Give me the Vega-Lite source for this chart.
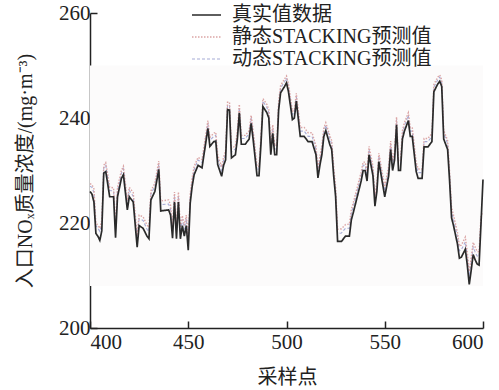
{
  "$schema": "https://vega.github.io/schema/vega-lite/v6.json",
  "width": 393,
  "height": 315,
  "autosize": "none",
  "padding": {"left": 90, "top": 13, "right": 16, "bottom": 62},
  "config": {
    "view": {"stroke": null},
    "font": "Liberation Serif, Noto Sans CJK SC",
    "axis": {
      "grid": false,
      "domainColor": "#222",
      "domainWidth": 1.5,
      "tickColor": "#222",
      "tickWidth": 1.5,
      "tickSize": -7,
      "labelFont": "Liberation Serif",
      "labelFontSize": 21,
      "labelColor": "#222",
      "titleFont": "Liberation Serif, Noto Sans CJK SC",
      "titleFontSize": 20,
      "titleFontWeight": "normal",
      "titleColor": "#222"
    }
  },
  "encoding": {
    "x": {
      "field": "x",
      "type": "quantitative",
      "scale": {"domain": [400, 600], "nice": false, "zero": false},
      "axis": {
        "title": "采样点",
        "values": [400, 450, 500, 550, 600],
        "labelPadding": 10,
        "titleX": 197,
        "titleY": 49,
        "titleAlign": "center",
        "titleBaseline": "middle",
        "titleAngle": 0
      }
    },
    "y": {
      "field": "value",
      "type": "quantitative",
      "scale": {"domain": [200, 260], "nice": false, "zero": false},
      "axis": {
        "title": "入口NOₓ质量浓度/(mg·m⁻³)",
        "values": [200, 220, 240, 260],
        "labelPadding": 7,
        "titleX": -65,
        "titleY": 157.5,
        "titleAngle": -90,
        "titleAlign": "center",
        "titleBaseline": "middle"
      }
    }
  },
  "layer": [
    {
      "data": {"values": [{"x": 400, "x2": 600, "value": 208, "value2": 250}]},
      "mark": {"type": "rect", "fill": "#fcfbfb", "stroke": null},
      "encoding": {
        "x2": {"field": "x2"},
        "y2": {"field": "value2"}
      }
    },
    {
      "data": {"values": [
        {"x":400,"r":226,"s":227.5,"d":227},
        {"x":401,"r":225.5,"s":227.3,"d":226.8},
        {"x":402,"r":224,"s":226.5,"d":225.8},
        {"x":403,"r":218,"s":220,"d":219.5},
        {"x":404,"r":217.5,"s":219.6,"d":219},
        {"x":405,"r":216.7,"s":219,"d":218.4},
        {"x":406,"r":218.5,"s":220.5,"d":219.8},
        {"x":407,"r":229.5,"s":231,"d":230.5},
        {"x":408,"r":229.8,"s":231.5,"d":231},
        {"x":409,"r":227.5,"s":229.3,"d":228.7},
        {"x":410,"r":225,"s":226.8,"d":226.2},
        {"x":412,"r":225,"s":226.7,"d":226.1},
        {"x":413,"r":217.2,"s":219.3,"d":218.6},
        {"x":414,"r":225,"s":226.8,"d":226.1},
        {"x":416,"r":228.5,"s":230,"d":229.5},
        {"x":417,"r":229.2,"s":230.8,"d":230.3},
        {"x":419,"r":222.5,"s":224.3,"d":223.6},
        {"x":420,"r":225,"s":226.8,"d":226.2},
        {"x":422,"r":224,"s":225.8,"d":225.1},
        {"x":424,"r":215.4,"s":217.6,"d":216.8},
        {"x":425,"r":219.5,"s":221.5,"d":220.8},
        {"x":427,"r":219,"s":221.2,"d":220.5},
        {"x":429,"r":217.5,"s":219.6,"d":218.8},
        {"x":430,"r":217,"s":219.2,"d":218.4},
        {"x":431,"r":224.4,"s":226.1,"d":225.5},
        {"x":433,"r":226,"s":227.6,"d":227},
        {"x":435,"r":230.2,"s":231.8,"d":231.2},
        {"x":436,"r":222.3,"s":224.2,"d":223.5},
        {"x":440,"r":222.5,"s":224.4,"d":223.6},
        {"x":441,"r":221.5,"s":223.4,"d":222.6},
        {"x":442,"r":217.1,"s":219.2,"d":218.5},
        {"x":443,"r":224,"s":225.9,"d":225.1},
        {"x":444,"r":217,"s":219.2,"d":218.4},
        {"x":445,"r":224,"s":225.9,"d":225.1},
        {"x":446,"r":217,"s":219.1,"d":218.3},
        {"x":447,"r":219.5,"s":221.4,"d":220.7},
        {"x":448,"r":217.5,"s":219.6,"d":218.8},
        {"x":449,"r":219.5,"s":221.5,"d":220.8},
        {"x":450,"r":214.8,"s":217,"d":216.2},
        {"x":451,"r":223.8,"s":225.5,"d":224.9},
        {"x":452,"r":227,"s":228.6,"d":228},
        {"x":453,"r":229.2,"s":230.8,"d":230.2},
        {"x":455,"r":231,"s":232.5,"d":232},
        {"x":457,"r":230.5,"s":232.1,"d":231.5},
        {"x":458,"r":233,"s":234.5,"d":234},
        {"x":460,"r":238,"s":239.5,"d":239},
        {"x":461,"r":234.6,"s":236.3,"d":235.7},
        {"x":463,"r":235.5,"s":237.1,"d":236.5},
        {"x":464,"r":235.6,"s":237.3,"d":236.7},
        {"x":465,"r":231.1,"s":232.9,"d":232.2},
        {"x":467,"r":228.9,"s":230.7,"d":230},
        {"x":468,"r":231,"s":232.6,"d":232},
        {"x":469,"r":232,"s":233.7,"d":233.1},
        {"x":470,"r":241.6,"s":243,"d":242.5},
        {"x":471,"r":241.5,"s":243,"d":242.4},
        {"x":472,"r":232.4,"s":234.2,"d":233.5},
        {"x":474,"r":233,"s":234.7,"d":234.1},
        {"x":475,"r":236,"s":237.6,"d":237},
        {"x":476,"r":241,"s":242.6,"d":242},
        {"x":477,"r":235,"s":236.7,"d":236.1},
        {"x":479,"r":235,"s":236.7,"d":236.1},
        {"x":481,"r":236,"s":237.6,"d":237},
        {"x":482,"r":239,"s":240.5,"d":240},
        {"x":483,"r":236,"s":237.7,"d":237.1},
        {"x":485,"r":229,"s":230.8,"d":230.1},
        {"x":486,"r":229,"s":230.8,"d":230.1},
        {"x":487,"r":235,"s":236.6,"d":236},
        {"x":488,"r":242.2,"s":243.7,"d":243.2},
        {"x":490,"r":241,"s":242.6,"d":242},
        {"x":491,"r":240,"s":241.6,"d":241},
        {"x":492,"r":233,"s":234.8,"d":234.1},
        {"x":493,"r":237.1,"s":238.7,"d":238.1},
        {"x":494,"r":233,"s":234.8,"d":234.1},
        {"x":495,"r":233,"s":234.8,"d":234.1},
        {"x":496,"r":241.5,"s":243,"d":242.5},
        {"x":497,"r":244.8,"s":246.2,"d":245.7},
        {"x":499,"r":246,"s":247.4,"d":246.9},
        {"x":500,"r":246.7,"s":248,"d":247.6},
        {"x":501,"r":245,"s":246.5,"d":246},
        {"x":503,"r":239.7,"s":241.3,"d":240.7},
        {"x":504,"r":240,"s":241.6,"d":241},
        {"x":505,"r":243.2,"s":244.7,"d":244.1},
        {"x":507,"r":236.5,"s":238.2,"d":237.5},
        {"x":509,"r":236.5,"s":238.2,"d":237.5},
        {"x":511,"r":235.5,"s":237.2,"d":236.5},
        {"x":513,"r":235.5,"s":237.2,"d":236.5},
        {"x":515,"r":233,"s":234.7,"d":234.1},
        {"x":516,"r":228.6,"s":230.4,"d":229.7},
        {"x":517,"r":231,"s":232.7,"d":232},
        {"x":518,"r":233,"s":234.7,"d":234.1},
        {"x":519,"r":236.5,"s":238.1,"d":237.5},
        {"x":520,"r":237.6,"s":239.1,"d":238.6},
        {"x":522,"r":235,"s":236.7,"d":236.1},
        {"x":523,"r":234,"s":235.7,"d":235.1},
        {"x":524,"r":229,"s":230.8,"d":230.1},
        {"x":525,"r":225,"s":226.9,"d":226.1},
        {"x":526,"r":216.5,"s":218.8,"d":218},
        {"x":528,"r":216.5,"s":218.9,"d":218.1},
        {"x":530,"r":217.5,"s":219.7,"d":219},
        {"x":532,"r":217.5,"s":219.8,"d":219},
        {"x":533,"r":220.6,"s":222.6,"d":221.8},
        {"x":534,"r":222,"s":223.9,"d":223.2},
        {"x":536,"r":225,"s":226.8,"d":226.1},
        {"x":538,"r":228,"s":229.7,"d":229.1},
        {"x":539,"r":230,"s":231.6,"d":231},
        {"x":540,"r":230,"s":231.6,"d":231},
        {"x":541,"r":228,"s":229.8,"d":229.1},
        {"x":542,"r":233,"s":234.6,"d":234},
        {"x":544,"r":229,"s":230.8,"d":230.1},
        {"x":545,"r":223.2,"s":225.1,"d":224.4},
        {"x":546,"r":226,"s":227.8,"d":227.1},
        {"x":547,"r":231.7,"s":233.3,"d":232.7},
        {"x":550,"r":225,"s":226.9,"d":226.1},
        {"x":552,"r":229,"s":230.8,"d":230.1},
        {"x":553,"r":234,"s":235.6,"d":235},
        {"x":554,"r":230,"s":231.8,"d":231.1},
        {"x":555,"r":232,"s":233.7,"d":233.1},
        {"x":556,"r":238.7,"s":240.2,"d":239.7},
        {"x":557,"r":230,"s":231.8,"d":231.1},
        {"x":558,"r":230,"s":231.8,"d":231.1},
        {"x":559,"r":236,"s":237.6,"d":237},
        {"x":560,"r":237.5,"s":239.1,"d":238.5},
        {"x":562,"r":239.5,"s":241,"d":240.5},
        {"x":563,"r":236.5,"s":238.2,"d":237.5},
        {"x":564,"r":236.5,"s":238.2,"d":237.5},
        {"x":566,"r":229.8,"s":231.6,"d":230.9},
        {"x":567,"r":228.5,"s":230.3,"d":229.6},
        {"x":569,"r":228.5,"s":230.3,"d":229.6},
        {"x":570,"r":234.5,"s":236.1,"d":235.5},
        {"x":572,"r":234.5,"s":236.1,"d":235.5},
        {"x":574,"r":235.5,"s":237.1,"d":236.5},
        {"x":575,"r":245,"s":246.4,"d":245.9},
        {"x":577,"r":246.5,"s":247.8,"d":247.3},
        {"x":578,"r":247,"s":248.2,"d":247.8},
        {"x":579,"r":246,"s":247.3,"d":246.8},
        {"x":580,"r":236,"s":237.7,"d":237.1},
        {"x":582,"r":234,"s":235.7,"d":235.1},
        {"x":583,"r":228,"s":229.8,"d":229.1},
        {"x":584,"r":221,"s":223,"d":222.2},
        {"x":585,"r":219.5,"s":221.5,"d":220.7},
        {"x":587,"r":216,"s":218.2,"d":217.4},
        {"x":588,"r":213.3,"s":215.6,"d":214.7},
        {"x":589,"r":213.5,"s":215.8,"d":214.9},
        {"x":591,"r":215,"s":217.3,"d":216.4},
        {"x":592,"r":212,"s":214.4,"d":213.5},
        {"x":593,"r":208.3,"s":210.8,"d":209.8},
        {"x":594,"r":211,"s":213.4,"d":212.5},
        {"x":595,"r":214,"s":216.3,"d":215.4},
        {"x":596,"r":213,"s":215.4,"d":214.5},
        {"x":597,"r":212.2,"s":214.6,"d":213.7},
        {"x":598,"r":212,"s":214.5,"d":213.6},
        {"x":599,"r":220,"s":221.5,"d":220.8},
        {"x":600,"r":228.3,"s":222,"d":220.5}
      ]},
      "transform": [
        {"fold": ["d", "s", "r"], "as": ["key", "value"]},
        {"lookup": "key", "from": {"data": {"values": [
          {"key": "r", "series": "真实值数据"},
          {"key": "s", "series": "静态STACKING预测值"},
          {"key": "d", "series": "动态STACKING预测值"}
        ]}, "key": "key", "fields": ["series"]}}
      ],
      "mark": {"type": "line"},
      "encoding": {
        "color": {
          "field": "series",
          "type": "nominal",
          "scale": {
            "domain": ["真实值数据", "静态STACKING预测值", "动态STACKING预测值"],
            "range": ["#2a2a2a", "#dba5a5", "#a6abd6"]
          },
          "legend": {
            "title": null,
            "orient": "none",
            "legendX": 101,
            "legendY": -9,
            "symbolType": "stroke",
            "symbolSize": 841,
            "clipHeight": 22,
            "rowPadding": 0,
            "labelOffset": 10,
            "padding": 0,
            "labelFont": "Liberation Serif, Noto Sans CJK SC",
            "labelFontSize": 20,
            "labelColor": "#222",
            "labelLimit": 400
          }
        },
        "strokeDash": {
          "field": "series",
          "type": "nominal",
          "scale": {
            "domain": ["真实值数据", "静态STACKING预测值", "动态STACKING预测值"],
            "range": [[1, 0], [1.5, 1.5], [3, 2]]
          },
          "legend": null
        },
        "strokeWidth": {
          "field": "series",
          "type": "nominal",
          "scale": {
            "domain": ["真实值数据", "静态STACKING预测值", "动态STACKING预测值"],
            "range": [1.7, 1.1, 1.1]
          },
          "legend": null
        }
      }
    }
  ]
}
